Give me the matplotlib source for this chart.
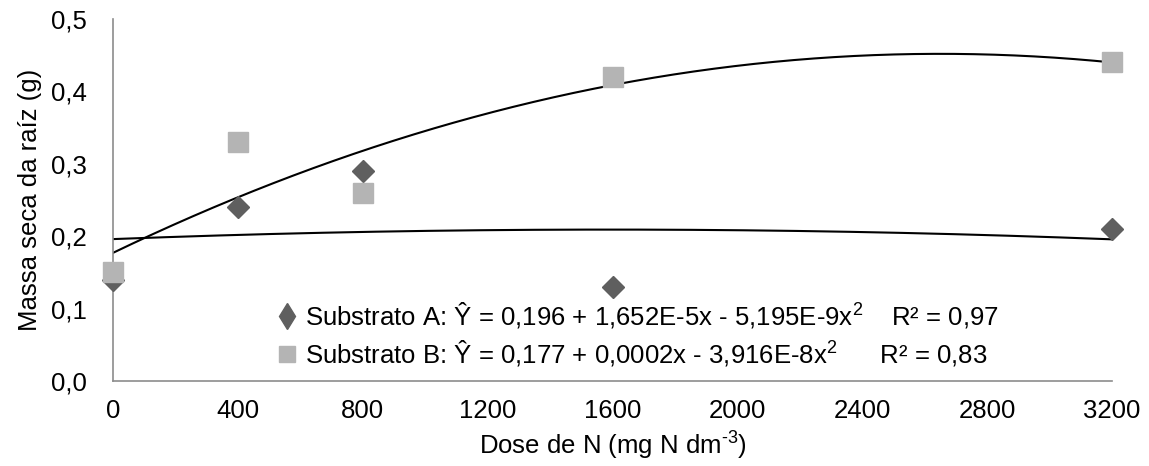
import matplotlib
matplotlib.use("Agg")
import matplotlib.pyplot as plt
import numpy as np
from matplotlib.lines import Line2D

plt.rcParams['font.family'] = ['Liberation Sans', 'DejaVu Sans']
plt.rcParams['mathtext.fontset'] = 'custom'
plt.rcParams['mathtext.rm'] = 'Liberation Sans'
plt.rcParams['mathtext.it'] = 'Liberation Sans'

# Data
doses = [0, 400, 800, 1600, 3200]
subA = [0.14, 0.24, 0.29, 0.13, 0.21]
subB = [0.15, 0.33, 0.26, 0.42, 0.44]
coefA = [0.196, 1.652e-5, -5.195e-9]
coefB = [0.177, 2.075e-4, -3.916e-8]
xticks = [0, 400, 800, 1200, 1600, 2000, 2400, 2800, 3200]
yticks = [0.0, 0.1, 0.2, 0.3, 0.4, 0.5]
labelA = "Substrato A: Ŷ = 0,196 + 1,652E-5x - 5,195E-9x$^2$    R² = 0,97"
labelB = "Substrato B: Ŷ = 0,177 + 0,0002x - 3,916E-8x$^2$      R² = 0,83"

colA = '#5f5f5f'
colB = '#b4b4b4'
FS = 18.5

fig = plt.figure(figsize=(11.49, 4.66), dpi=100)
ax = fig.add_axes([113/1149, 1-381/466, (1112-113)/1149, (381-19)/466])

xs = np.linspace(0, 3200, 400)
ax.plot(xs, coefA[0] + coefA[1]*xs + coefA[2]*xs**2, color='black', lw=1.5, zorder=2)
ax.plot(xs, coefB[0] + coefB[1]*xs + coefB[2]*xs**2, color='black', lw=1.5, zorder=2)

ax.plot(doses, subA, linestyle='none', marker='D', markersize=11, color=colA, clip_on=False, zorder=3)
ax.plot(doses, subB, linestyle='none', marker='s', markersize=14, color=colB, clip_on=False, zorder=4)

ax.set_xlim(0, 3200)
ax.set_ylim(0, 0.5)
ax.set_xticks(xticks)
ax.set_xticklabels([str(t) for t in xticks])
ax.set_yticks(yticks)
ax.set_yticklabels([f"{t:.1f}".replace('.', ',') for t in yticks])
ax.tick_params(axis='y', length=0, pad=19, labelsize=FS)
ax.tick_params(axis='x', length=0, pad=13, labelsize=FS)

for s in ['top', 'right']:
    ax.spines[s].set_visible(False)
for s in ['left', 'bottom']:
    ax.spines[s].set_color('#8c8c8c')
    ax.spines[s].set_linewidth(1.2)

ax.set_ylabel("Massa seca da raíz (g)", fontsize=FS, labelpad=6)
ax.set_xlabel("Dose de N (mg N dm$^{\u2010 3}$)", fontsize=FS, labelpad=5)

handles = [Line2D([], [], linestyle='none', marker='d', markersize=13, color=colA),
           Line2D([], [], linestyle='none', marker='s', markersize=12, color=colB)]
ax.legend(handles, [labelA, labelB], loc='upper left', bbox_to_anchor=(0.155, 0.252),
          frameon=False, fontsize=FS, handlelength=0.7, handletextpad=0.35,
          labelspacing=0.32, borderaxespad=0)

fig.savefig("out.png", dpi=100)
